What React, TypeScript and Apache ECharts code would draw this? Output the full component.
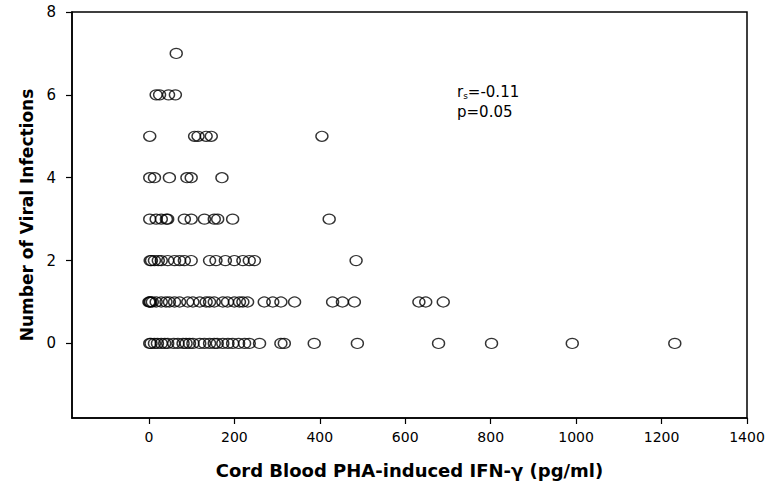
import React, { useEffect, useRef } from "react";
import * as echarts from "echarts";

// IFN-γ values (pg/ml) per number of viral infections
const infections0 = [2, 5, 13, 20, 29, 37, 44, 58, 68, 80, 87, 95, 103, 119, 130, 142, 153, 160, 173, 185, 196, 210, 224, 235, 259, 309, 317, 387, 488, 678, 802, 991, 1231];
const infections1 = [0, 2, 4, 8, 17, 29, 40, 48, 60, 72, 91, 103, 119, 134, 142, 153, 173, 184, 200, 212, 220, 231, 270, 290, 309, 341, 430, 453, 481, 632, 648, 689];
const infections2 = [3, 6, 13, 22, 29, 44, 60, 72, 83, 99, 142, 157, 179, 200, 220, 235, 247, 485];
const infections3 = [2, 17, 29, 41, 44, 83, 99, 130, 153, 161, 196, 422];
const infections4 = [2, 13, 48, 89, 99, 171];
const infections5 = [2, 107, 115, 134, 146, 405];
const infections6 = [17, 25, 46, 62];
const infections7 = [64];

const rows = [infections0, infections1, infections2, infections3, infections4, infections5, infections6, infections7];

const xTicks = [0, 200, 400, 600, 800, 1000, 1200, 1400];
const yTicks = [0, 2, 4, 6, 8];

const FONT = "DejaVu Sans, Liberation Sans, Arial, sans-serif";

export default function App() {
  const ref = useRef<HTMLDivElement>(null);
  useEffect(() => {
    document.body.style.margin = "0";
    if (!ref.current) return;
    const chart = echarts.init(ref.current, null, { renderer: "svg" });
    const data: number[][] = [];
    rows.forEach((vals, n) => vals.forEach((v) => data.push([v, n])));
    chart.setOption({
      animation: false,
      backgroundColor: "#fff",
      grid: {
        left: 72,
        top: 12,
        right: 21,
        bottom: 72,
        show: true,
        borderColor: "#000",
        borderWidth: 1.5,
      },
      xAxis: {
        type: "value",
        min: -180,
        max: 1400,
        name: "Cord Blood PHA-induced IFN-γ (pg/ml)",
        nameLocation: "middle",
        nameGap: 43,
        nameTextStyle: { fontFamily: FONT, fontSize: 18, fontWeight: "bold", color: "#000" },
        axisLine: { show: true, onZero: false, lineStyle: { color: "#000", width: 1.5 } },
        axisTick: { show: true, length: 6, customValues: xTicks, lineStyle: { color: "#000", width: 1.2 } },
        axisLabel: {
          customValues: xTicks,
          margin: 12,
          fontFamily: FONT,
          fontSize: 14,
          color: "#000",
          formatter: (v: number) => String(v),
        },
        splitLine: { show: false },
      },
      yAxis: {
        type: "value",
        min: -1.8,
        max: 8,
        name: "Number of Viral Infections",
        nameLocation: "middle",
        nameGap: 36,
        nameTextStyle: { fontFamily: FONT, fontSize: 17, fontWeight: "bold", color: "#000" },
        axisLine: { show: true, onZero: false, lineStyle: { color: "#000", width: 1.5 } },
        axisTick: { show: true, length: 6, customValues: yTicks, lineStyle: { color: "#000", width: 1.2 } },
        axisLabel: {
          customValues: yTicks,
          margin: 16,
          fontFamily: FONT,
          fontSize: 15,
          color: "#000",
          formatter: (v: number) => String(v),
        },
        splitLine: { show: false },
      },
      series: [
        {
          type: "scatter",
          data,
          symbol: "circle",
          symbolSize: [12, 10],
          itemStyle: { color: "rgba(0,0,0,0)", borderColor: "#000", borderWidth: 1.3 },
        },
      ],
      graphic: [
        {
          type: "text",
          left: 457,
          top: 84,
          style: {
            text: "{r|r}{s|s}{r|=-0.11}",
            rich: {
              r: { fontFamily: FONT, fontSize: 15, fill: "#000" },
              s: { fontFamily: FONT, fontSize: 9, fill: "#000", verticalAlign: "bottom", padding: [8, 0, 0, 0] },
            },
          },
        },
        {
          type: "text",
          left: 457,
          top: 104,
          style: { text: "p=0.05", fontFamily: FONT, fontSize: 15, fill: "#000" },
        },
      ],
    });
    return () => chart.dispose();
  }, []);
  return <div ref={ref} style={{ width: 768, height: 490 }} />;
}
